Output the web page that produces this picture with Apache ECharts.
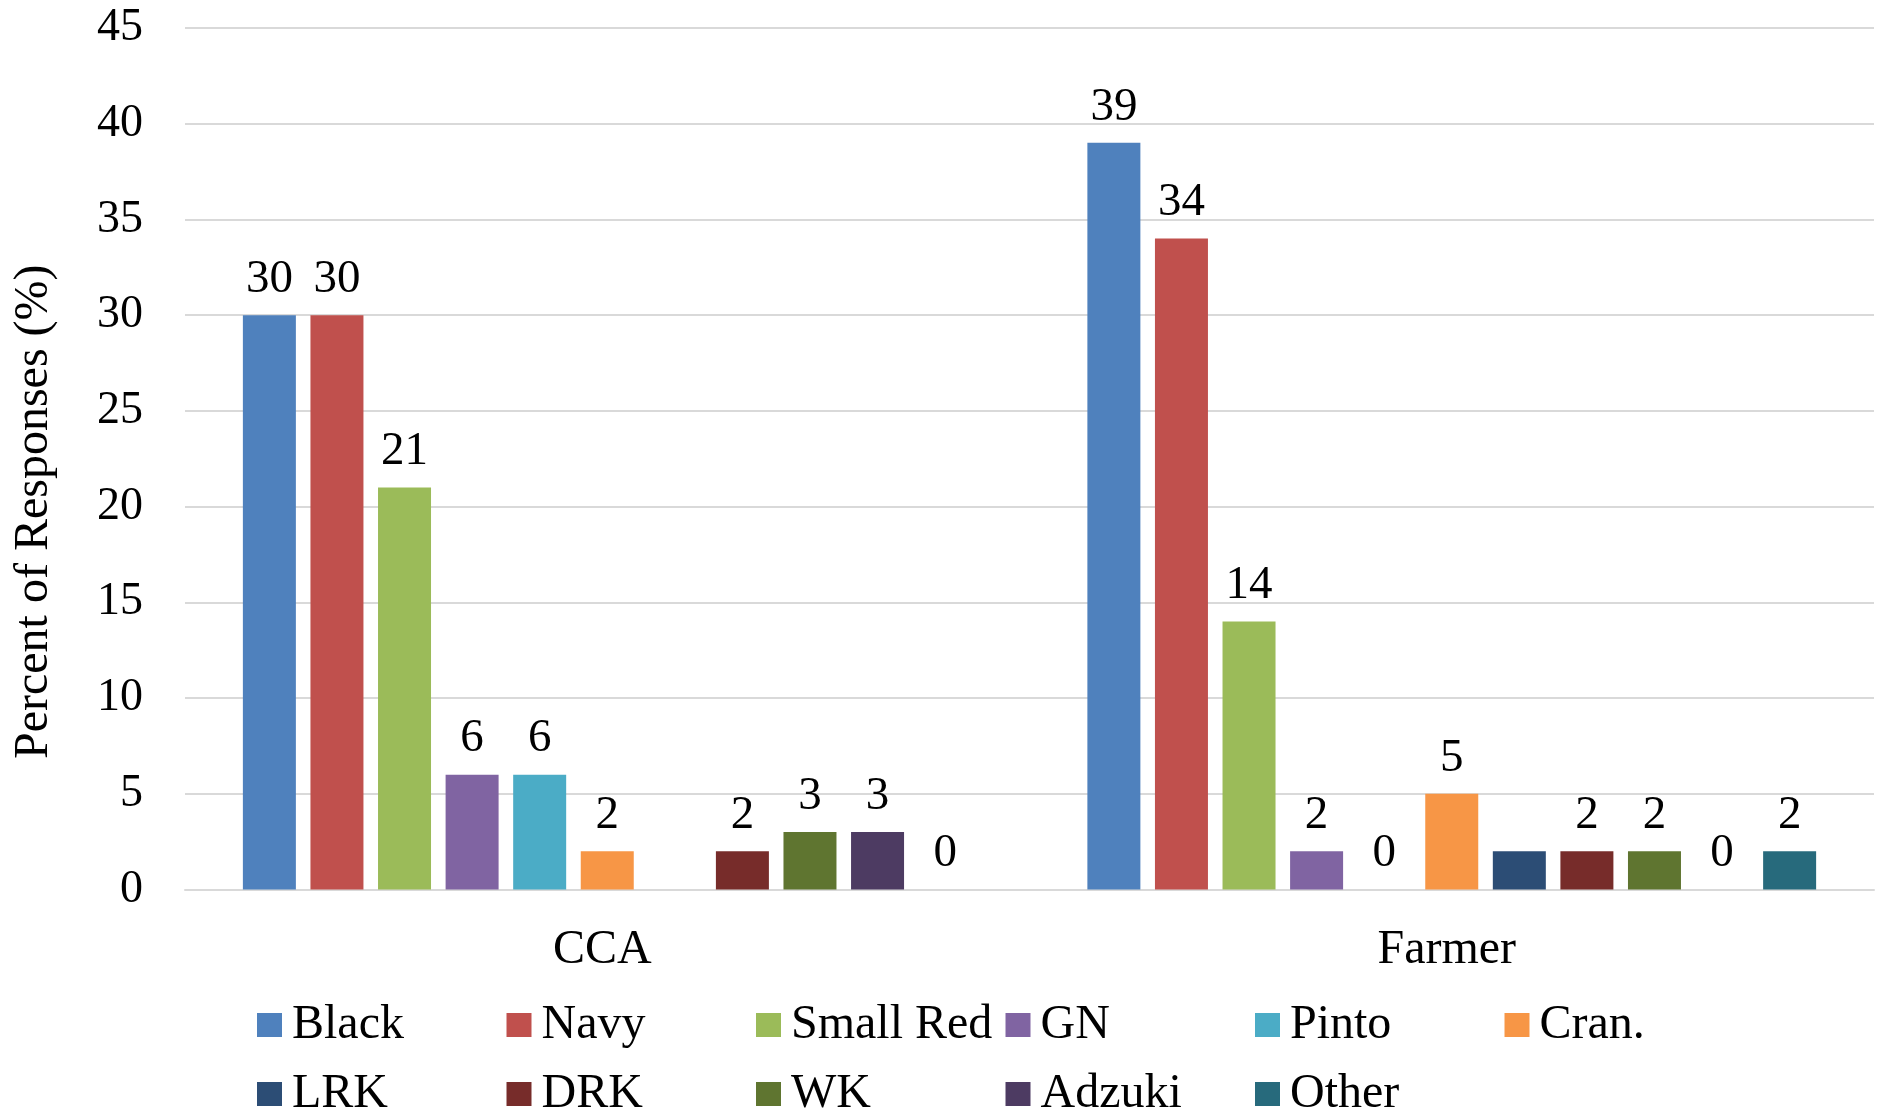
<!DOCTYPE html>
<html>
<head>
<meta charset="utf-8">
<script src="https://cdn.jsdelivr.net/npm/echarts@6/dist/echarts.min.js"></script>
<style>
html,body{margin:0;padding:0;background:#fff;}
#chart{width:1879px;height:1111px;}
</style>
</head>
<body>
<div id="chart"></div>
<script>
var categories = ['CCA', 'Farmer'];
var seriesNames = ['Black', 'Navy', 'Small Red', 'GN', 'Pinto', 'Cran.', 'LRK', 'DRK', 'WK', 'Adzuki', 'Other'];
var black = [30, 39];
var navy = [30, 34];
var smallRed = [21, 14];
var gn = [6, 2];
var pinto = [6, 0];
var cran = [2, 5];
var lrk = [0, 2];
var drk = [2, 2];
var wk = [3, 2];
var adzuki = [3, 0];
var other = [0, 2];
var yTicks = [0, 5, 10, 15, 20, 25, 30, 35, 40, 45];

var seriesValues = [black, navy, smallRed, gn, pinto, cran, lrk, drk, wk, adzuki, other];
var colors = ['#4F81BD', '#C0504D', '#9BBB59', '#8064A2', '#4BACC6', '#F79646',
              '#2C4D75', '#772C2A', '#5F7530', '#4D3B62', '#276A7C'];
var showLabel = [true, true, true, true, true, true, false, true, true, true, true];
var FONT = '"Liberation Serif", "Times New Roman", serif';

var chart = echarts.init(document.getElementById('chart'));
var series = seriesNames.map(function (name, i) {
  return {
    name: name,
    type: 'bar',
    data: seriesValues[i],
    barWidth: 53,
    barGap: '27.5%',
    itemStyle: { color: colors[i] },
    label: {
      show: showLabel[i],
      position: 'top',
      distance: 12,
      color: '#000',
      fontFamily: FONT,
      fontSize: 47
    }
  };
});

chart.setOption({
  animation: false,
  color: colors,
  grid: { left: 185, right: 5, top: 28, bottom: 221.5 },
  xAxis: {
    type: 'category',
    data: categories,
    axisLine: { show: true, lineStyle: { color: '#d9d9d9', width: 2 } },
    axisTick: { show: false },
    axisLabel: { color: '#000', fontFamily: FONT, fontSize: 48, margin: 37, padding: [0, 10, 0, 0] }
  },
  yAxis: {
    type: 'value',
    min: yTicks[0],
    max: yTicks[yTicks.length - 1],
    interval: 5,
    name: 'Percent of Responses (%)',
    nameLocation: 'middle',
    nameGap: 127,
    nameRotate: 90,
    nameTextStyle: { color: '#000', fontFamily: FONT, fontSize: 48, padding: [0, 106, 0, 0] },
    axisLine: { show: false },
    axisTick: { show: false },
    splitLine: { lineStyle: { color: '#d9d9d9', width: 2 } },
    axisLabel: { color: '#000', fontFamily: FONT, fontSize: 46, margin: 42 }
  },
  legend: {
    data: seriesNames,
    left: 257,
    top: 995.5,
    width: 1560,
    padding: 0,
    itemWidth: 25,
    itemHeight: 24,
    itemGap: 10,
    icon: 'rect',
    selectedMode: false,
    textStyle: {
      color: '#000',
      fontFamily: FONT,
      fontSize: 48,
      lineHeight: 59,
      width: 204.5,
      padding: [0, 0, 0, 5]
    }
  },
  series: series
});
</script>
</body>
</html>
